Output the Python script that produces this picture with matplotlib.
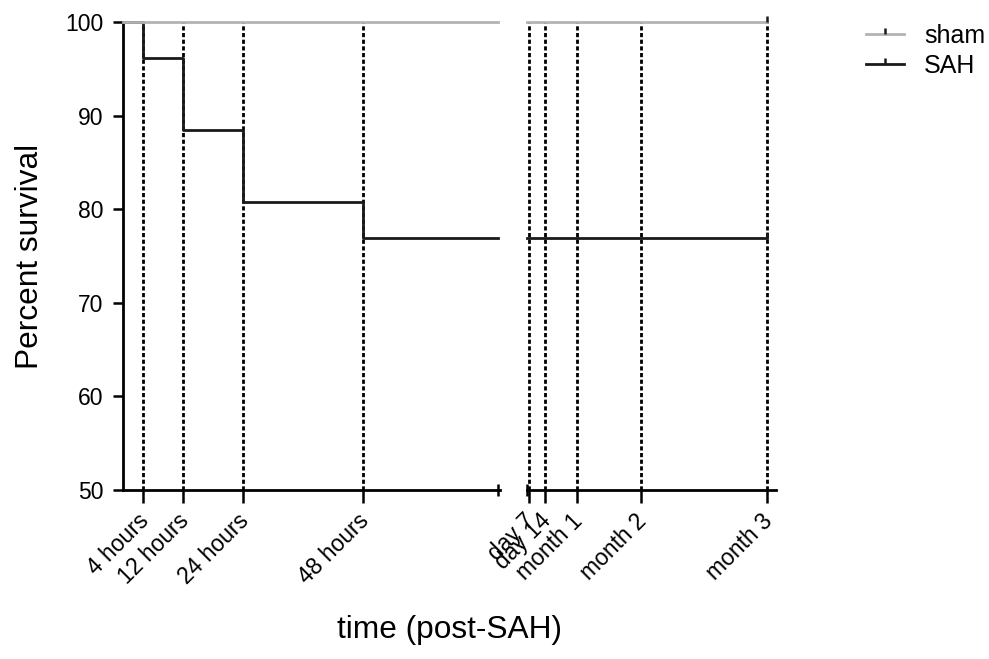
import matplotlib
matplotlib.use("Agg")
import matplotlib.pyplot as plt
from matplotlib.lines import Line2D
from matplotlib.path import Path
from matplotlib.transforms import ScaledTranslation

plt.rcParams["font.family"] = ["Liberation Sans", "DejaVu Sans"]

# early time points (hours post-SAH)
early_ticks = [4, 12, 24, 48]
early_labels = ["4 hours", "12 hours", "24 hours", "48 hours"]
early_end = 75

# late time points (days post-SAH)
late_ticks = [7, 14, 28, 56, 111]
late_labels = ["day 7", "day 14", "month 1", "month 2", "month 3"]
late_start = 6.1

# Kaplan-Meier survival, percent
sah_times = [0, 4, 12, 24, 48, early_end]
sah_pct = [100, 96.15, 88.46, 80.77, 76.92, 76.92]
sah_late_pct = 76.92
sham_pct = 100

SHAM_COLOR = "#b3b3b3"
SAH_COLOR = "#1a1a1a"
DASH = (0, (1.5, 0.9))

fig = plt.figure(figsize=(9.89, 6.59), dpi=100)
bottom, height = 0.2564, 0.7102
ax_l = fig.add_axes([0.1244, bottom, 0.3812, height])
ax_r = fig.add_axes([0.5329, bottom, 0.2518, height])

tick_up = Path([(0, 0), (0, 1)])

# early segment
for t in early_ticks:
    ax_l.plot([t, t], [50, 100], color="black", lw=2.0, ls=DASH, clip_on=False, zorder=1)
ax_l.step(sah_times, sah_pct, where="post", color=SAH_COLOR, lw=2.0, clip_on=False, zorder=2)
ax_l.plot([0, early_end], [sham_pct, sham_pct], color=SHAM_COLOR, lw=2.0, clip_on=False, zorder=3)
ax_l.set_xlim(0, early_end + 0.4)
ax_l.set_xticks(early_ticks)
ax_l.set_xticklabels(early_labels)
ax_l.set_xticks([early_end], minor=True)

# late segment
for t in late_ticks:
    ax_r.plot([t, t], [50, 100], color="black", lw=2.0, ls=DASH, clip_on=False, zorder=1)
ax_r.plot([late_start, late_ticks[-1]], [sah_late_pct, sah_late_pct], color=SAH_COLOR, lw=2.0,
          clip_on=False, zorder=2)
ax_r.plot([late_start, late_ticks[-1]], [sham_pct, sham_pct], color=SHAM_COLOR, lw=2.0,
          clip_on=False, zorder=3)
ax_r.plot([late_ticks[-1]] * 2, [sah_late_pct, sham_pct], ls="none", marker=tick_up, ms=9,
          mew=1.8, color=SAH_COLOR, clip_on=False, zorder=4)
ax_r.set_xlim(late_start, 115)
ax_r.set_xticks(late_ticks)
ax_r.set_xticklabels(late_labels)
ax_r.set_xticks([late_start], minor=True)

# nudge rotated labels so their end sits under the tick
label_shift = ScaledTranslation(-6 / 100, -4 / 100, fig.dpi_scale_trans)

for ax in (ax_l, ax_r):
    ax.set_ylim(50, 100)
    for side in ("top", "right"):
        ax.spines[side].set_visible(False)
    ax.spines["bottom"].set_linewidth(2.0)
    ax.spines["left"].set_linewidth(2.0)
    ax.tick_params(axis="x", which="major", length=9, width=1.8, pad=2, labelsize=16.5,
                   colors="black")
    ax.tick_params(axis="x", which="minor", length=8, width=1.8, direction="inout")
    for lab in ax.get_xticklabels():
        lab.set_rotation(45)
        lab.set_ha("right")
        lab.set_va("top")
        lab.set_rotation_mode("anchor")
        lab.set_transform(lab.get_transform() + label_shift)

ax_l.set_yticks([50, 60, 70, 80, 90, 100])
ax_l.tick_params(axis="y", length=7, width=1.8, pad=7, labelsize=16.5)
ax_r.spines["left"].set_visible(False)
ax_r.set_yticks([])

fig.text(0.455, 0.044, "time (post-SAH)", ha="center", va="center", fontsize=22.8)
fig.text(0.030, 0.611, "Percent survival", ha="center", va="center", rotation=90, fontsize=22.8)

handles = [
    Line2D([], [], color=SHAM_COLOR, lw=2.0, marker=tick_up, ms=8, mew=1.8, mec=SAH_COLOR),
    Line2D([], [], color=SAH_COLOR, lw=2.0, marker=tick_up, ms=8, mew=1.8, mec=SAH_COLOR),
]
fig.legend(handles, ["sham", "SAH"], loc="upper left", bbox_to_anchor=(0.866, 0.979),
           frameon=False, fontsize=18, handlelength=1.5, handletextpad=0.8, labelspacing=0.25,
           borderaxespad=0)

fig.savefig("out.png", dpi=100)
